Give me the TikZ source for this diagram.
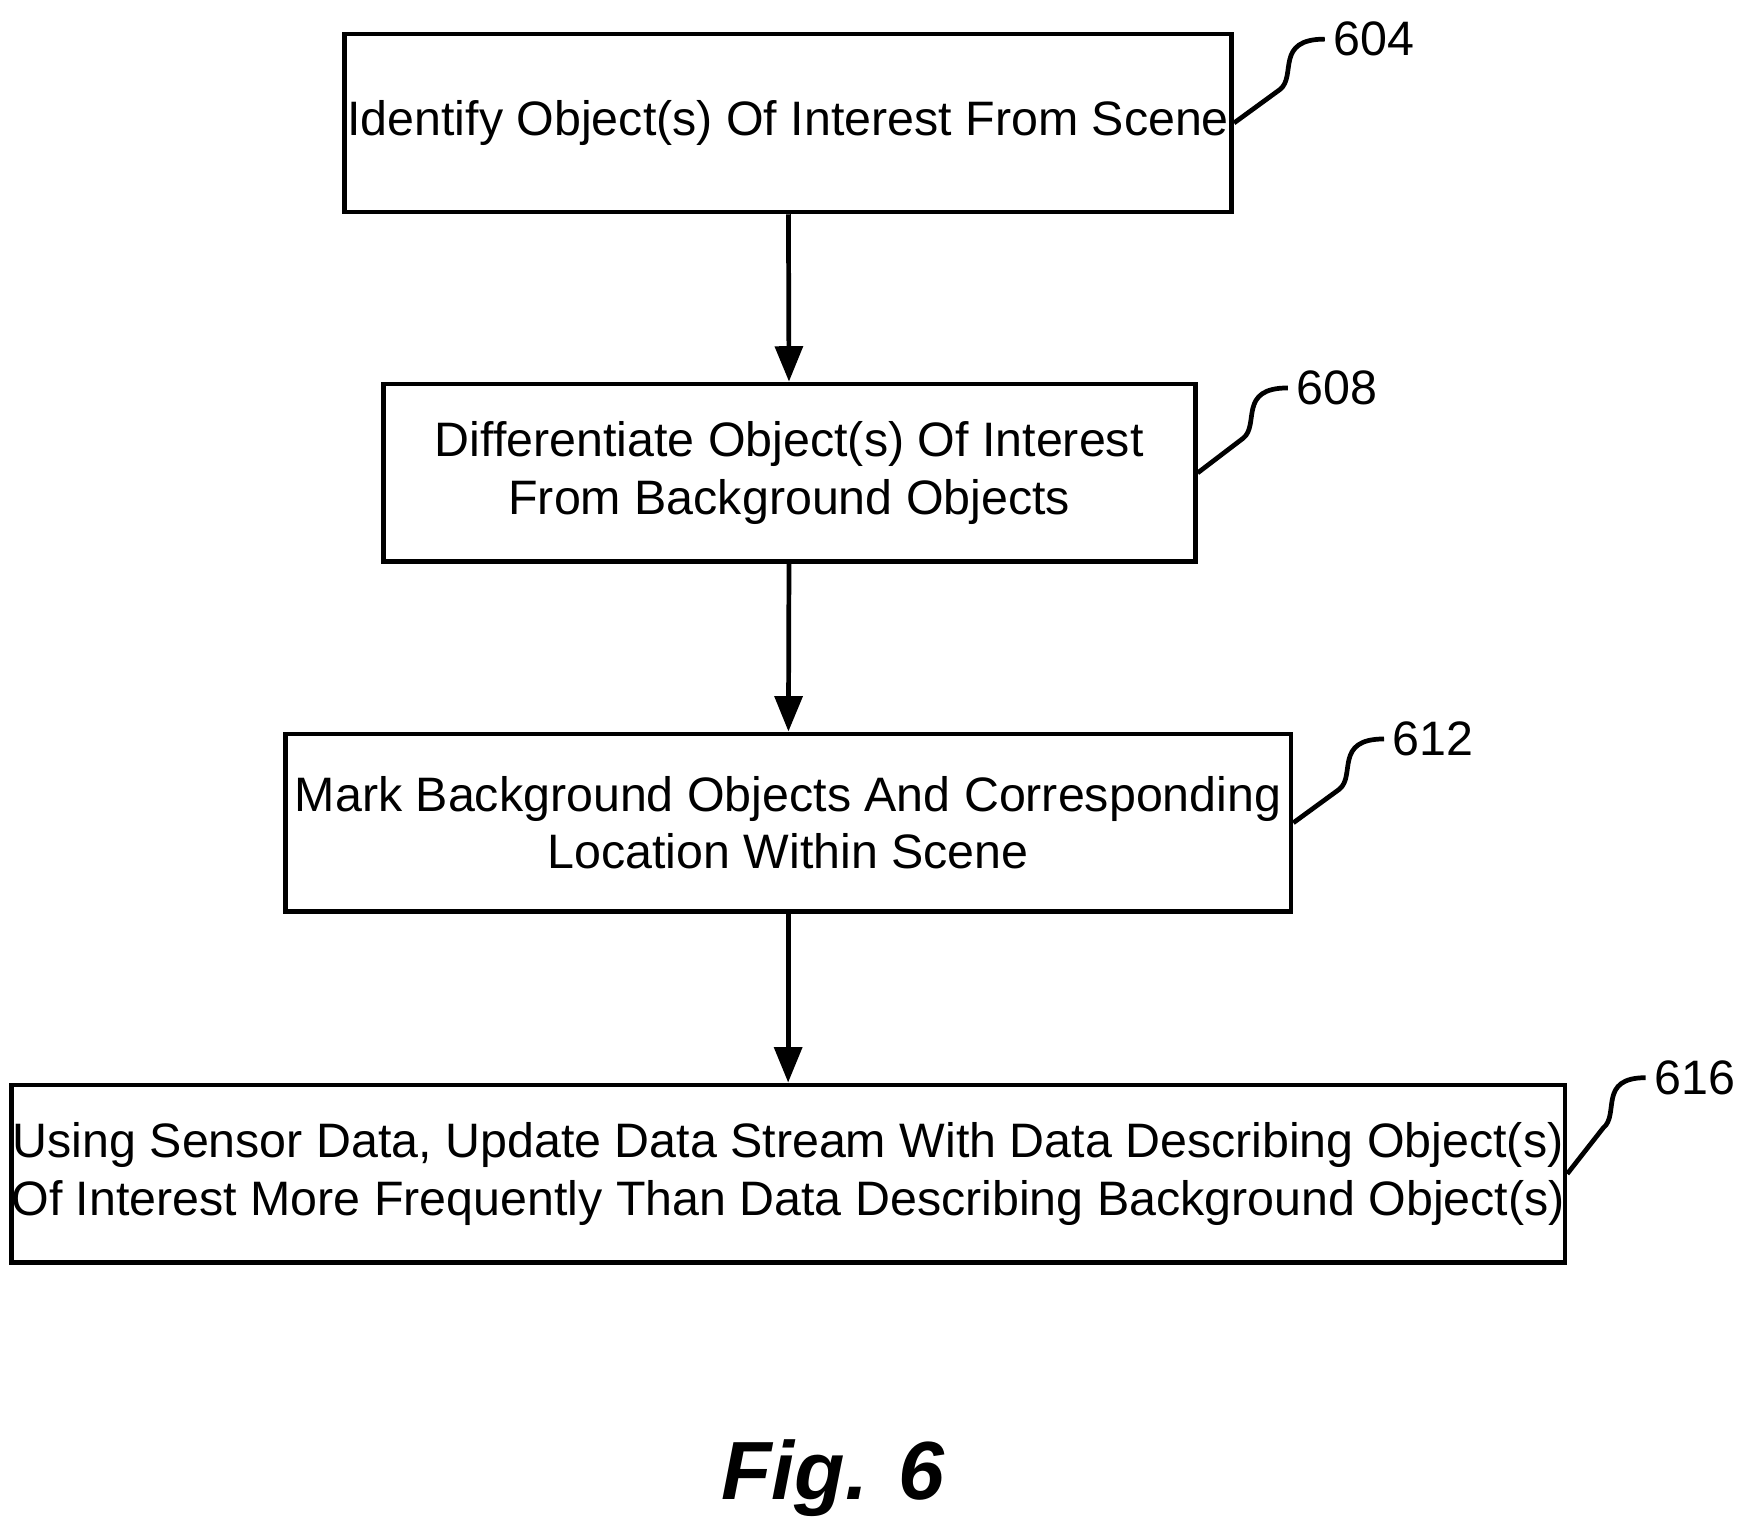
\documentclass[tikz,border=0pt]{standalone}
\usepackage{fontspec}
\setmainfont{Liberation Sans}
\usetikzlibrary{positioning, arrows.meta}

\begin{document}
\begin{tikzpicture}[x=0.01cm, y=-0.01cm, font=\fontsize{12.3}{14.6}\selectfont]

% Styles for boxes
\tikzstyle{box} = [rectangle, draw, line width=1.2pt, align=center, minimum height=1.59cm, inner sep=0pt]
\tikzstyle{ref} = [anchor=west, inner sep=2pt]
\tikzstyle{flow} = [-{Triangle[length=9pt, width=7pt]}, line width=1.2pt]
\tikzstyle{tag} = [line width=1.2pt]

\useasboundingbox (0,0) rectangle (1560,1364);

% Nodes
\node [box, minimum width=7.93cm] (identify) at (705,110) {Identify Object(s) Of Interest From Scene};
\node [box, minimum width=7.26cm] (differ) at (706,423) {Differentiate Object(s) Of Interest\\From Background Objects};
\node [box, minimum width=8.99cm] (mark) at (705,736) {Mark Background Objects And Corresponding\\Location Within Scene};
\node [box, minimum width=13.71cm] (update) at (705,1050) {Using Sensor Data, Update Data Stream With Data Describing Object(s)\\Of Interest More Frequently Than Data Describing Background Object(s)};

% Reference numerals
\node [ref] (n604) at (1185,35) {604};
\node [ref] (n608) at (1152,347) {608};
\node [ref] (n612) at (1238,661) {612};
\node [ref] (n616) at (1472,964) {616};

% Edges
\draw[flow] (identify) -- (differ);
\draw[flow] (differ) -- (mark);
\draw[flow] (mark) -- (update);

% Leaders
\draw[tag] (identify.east) -- (1145,80) .. controls (1160,68) and (1140,35) .. (n604.west);
\draw[tag] (differ.east) -- (1112,392) .. controls (1127,380) and (1107,347) .. (n608.west);
\draw[tag] (mark.east) -- (1198,706) .. controls (1213,694) and (1193,661) .. (n612.west);
\draw[tag] (update.east) -- (1434,1009) .. controls (1449,997) and (1429,964) .. (n616.west);

\node [font=\fontsize{21}{24}\bfseries\itshape\selectfont] (fig) at (745,1322) {Fig. 6};

\end{tikzpicture}
\end{document}
